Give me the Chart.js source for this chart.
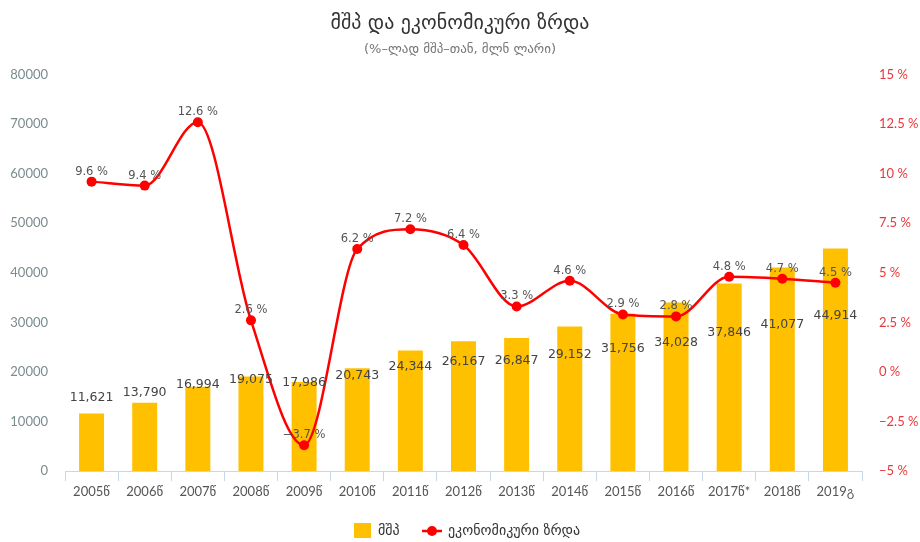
<!DOCTYPE html>
<html>
<head>
<meta charset="utf-8">
<script src="https://cdn.jsdelivr.net/npm/chart.js@4"></script>
<style>
  html, body { margin: 0; padding: 0; background: #fff; }
  #wrap { width: 920px; height: 542px; }
</style>
</head>
<body>
<div id="wrap"><canvas id="grafico" width="920" height="542"></canvas></div>
<script>
const anos = ['2005წ', '2006წ', '2007წ', '2008წ', '2009წ', '2010წ', '2011წ', '2012წ', '2013წ', '2014წ', '2015წ', '2016წ', '2017წ*', '2018წ', '2019გ'];
const mshp = [11621, 13790, 16994, 19075, 17986, 20743, 24344, 26167, 26847, 29152, 31756, 34028, 37846, 41077, 44914];
const zrda = [9.6, 9.4, 12.6, 2.6, -3.7, 6.2, 7.2, 6.4, 3.3, 4.6, 2.9, 2.8, 4.8, 4.7, 4.5];

const corBarra = '#FFC000';
const corLinha = '#FF0000';
const corEixo = '#e8383d';
const fonte = "'DejaVu Sans', sans-serif";
const fonteEixo = "Lato, 'DejaVu Sans', sans-serif";

const menos = v => String(v).replace('-', '−');

// rótulos dos valores
const rotulos = {
    id: 'rotulos',
    afterDatasetsDraw(chart) {
        const ctx = chart.ctx;
        ctx.save();
        ctx.textAlign = 'center';
        ctx.textBaseline = 'middle';
        ctx.font = '12.5px ' + fonte;
        ctx.fillStyle = '#444';
        chart.getDatasetMeta(1).data.forEach((bar, i) => {
            const meio = (bar.y + bar.base) / 2;
            ctx.fillText(mshp[i].toLocaleString('en-US'), bar.x, meio - 44);
        });
        ctx.font = '11.5px ' + fonte;
        ctx.fillStyle = '#555';
        chart.getDatasetMeta(0).data.forEach((pt, i) => {
            ctx.fillText(menos(zrda[i]) + ' %', pt.x, pt.y - 10);
        });
        ctx.restore();
    }
};

// legenda embaixo
const legenda = {
    id: 'legenda',
    afterDraw(chart) {
        const ctx = chart.ctx;
        const y = 531;
        ctx.save();
        ctx.font = '14px ' + fonte;
        ctx.textBaseline = 'middle';
        ctx.fillStyle = corBarra;
        ctx.fillRect(354, y - 8, 17, 15);
        ctx.fillStyle = '#333';
        ctx.fillText('მშპ', 378, y);
        ctx.strokeStyle = corLinha;
        ctx.lineWidth = 2.5;
        ctx.beginPath();
        ctx.moveTo(422, y);
        ctx.lineTo(442, y);
        ctx.stroke();
        ctx.fillStyle = corLinha;
        ctx.beginPath();
        ctx.arc(432, y, 5, 0, Math.PI * 2);
        ctx.fill();
        ctx.fillStyle = '#333';
        ctx.fillText('ეკონომიკური ზრდა', 448, y);
        ctx.restore();
    }
};

const ctx = document.getElementById('grafico').getContext('2d');
const grafico = new Chart(ctx, {
    data: {
        labels: anos,
        datasets: [{
            type: 'line',
            label: 'ეკონომიკური ზრდა',
            data: zrda,
            yAxisID: 'y1',
            borderColor: corLinha,
            backgroundColor: corLinha,
            borderWidth: 2.5,
            pointRadius: 5,
            pointHoverRadius: 5,
            pointBackgroundColor: corLinha,
            pointBorderWidth: 0,
            cubicInterpolationMode: 'monotone',
            order: 0
        },
        {
            type: 'bar',
            label: 'მშპ',
            data: mshp,
            yAxisID: 'y',
            backgroundColor: corBarra,
            categoryPercentage: 1,
            barPercentage: 0.47,
            order: 1
        }]
    },
    options: {
        responsive: false,
        animation: false,
        layout: { padding: { left: 0, right: 0, top: 0, bottom: 41 } },
        plugins: {
            legend: { display: false },
            tooltip: { enabled: false },
            title: {
                display: true,
                text: 'მშპ და ეკონომიკური ზრდა',
                color: '#333',
                font: { family: fonte, size: 20, weight: 'normal' },
                padding: { top: 12, bottom: 2 }
            },
            subtitle: {
                display: true,
                text: '(%–ლად მშპ–თან, მლნ ლარი)',
                color: '#777',
                font: { family: fonte, size: 13 },
                padding: { top: 4, bottom: 17 }
            }
        },
        scales: {
            x: {
                offset: true,
                grid: { offset: true, drawOnChartArea: false, color: '#c8d6ea', tickLength: 10 },
                border: { color: '#c8d6ea' },
                ticks: { color: '#555', font: { family: fonteEixo, size: 13 }, padding: 3, maxRotation: 0 },
                afterFit: s => { s.height = 30; }
            },
            y: {
                position: 'left',
                min: 0,
                max: 80000,
                grid: { display: false, drawTicks: false },
                border: { display: false },
                ticks: {
                    stepSize: 10000,
                    color: '#7b8c8d',
                    font: { family: fonteEixo, size: 13 },
                    padding: 17,
                    callback: v => String(v)
                },
                afterFit: s => { s.width = 65; }
            },
            y1: {
                position: 'right',
                min: -5,
                max: 15,
                grid: { display: false, drawTicks: false },
                border: { display: false },
                ticks: {
                    stepSize: 2.5,
                    color: corEixo,
                    font: { family: fonteEixo, size: 13 },
                    padding: 17,
                    callback: v => menos(v) + ' %'
                },
                afterFit: s => { s.width = 58; }
            }
        }
    },
    plugins: [rotulos, legenda]
});
</script>
</body>
</html>
